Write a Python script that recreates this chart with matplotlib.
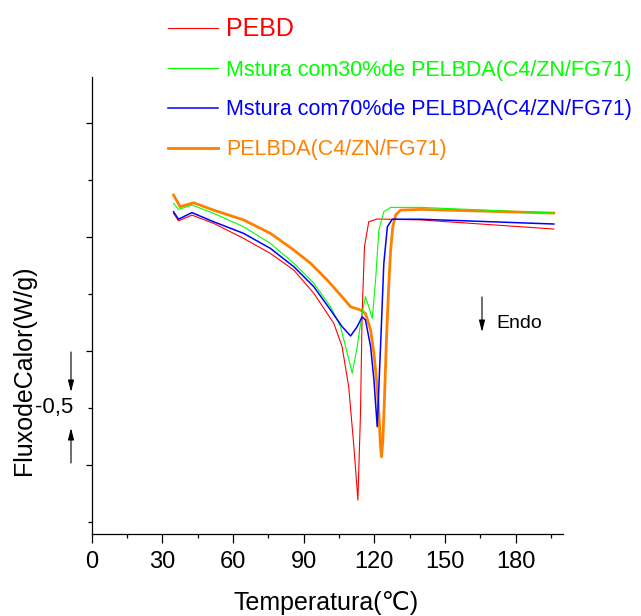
import matplotlib

matplotlib.use("Agg")
import matplotlib.pyplot as plt

# DSC curves (x in degC, y in W/g)
pebd_x = [34.8, 36.9, 42.6, 51.8, 64.5, 75.9, 85.8, 94.3, 102.8, 106.3, 109.1, 111.3, 113.0,
          114.1, 114.8, 115.8, 117.6, 121.2, 139.6, 196.1]
pebd_y = [0.354, 0.321, 0.346, 0.310, 0.244, 0.178, 0.105, 0.003, -0.129, -0.231, -0.407, -0.670,
          -0.904, -0.523, -0.085, 0.208, 0.317, 0.329, 0.325, 0.285]

m30_x = [34.8, 36.9, 42.6, 51.8, 64.5, 75.9, 85.8, 94.3, 101.4, 105.6, 108.5, 110.6, 112.7, 114.8,
         116.2, 117.6, 119.1, 120.5, 121.9, 124.0, 126.9, 139.6, 196.1]
m30_y = [0.398, 0.371, 0.390, 0.354, 0.295, 0.222, 0.135, 0.047, -0.056, -0.143, -0.260, -0.348,
         -0.231, -0.085, -0.012, -0.056, -0.107, 0.061, 0.281, 0.361, 0.380, 0.380, 0.355]

m70_x = [34.8, 36.9, 42.6, 51.8, 64.5, 75.9, 85.8, 94.3, 101.4, 106.3, 109.9, 112.7, 114.8, 116.2,
         118.4, 119.8, 121.2, 122.6, 124.0, 125.5, 127.6, 139.6, 196.1]
m70_y = [0.361, 0.328, 0.357, 0.317, 0.266, 0.200, 0.120, 0.032, -0.070, -0.143, -0.184, -0.143,
         -0.100, -0.114, -0.231, -0.377, -0.582, -0.231, 0.135, 0.295, 0.328, 0.328, 0.307]

pelbda_x = [34.8, 37.6, 43.3, 51.8, 64.5, 75.9, 85.8, 92.9, 100.0, 105.6, 109.9, 114.1, 116.2,
            118.4, 119.8, 120.9, 121.9, 122.6, 123.0, 123.6, 124.3, 125.1, 126.0, 126.9, 127.8,
            129.0, 131.1, 139.6, 196.1]
pelbda_y = [0.434, 0.383, 0.400, 0.368, 0.325, 0.266, 0.193, 0.135, 0.061, -0.004, -0.056, -0.070,
            -0.085, -0.158, -0.260, -0.377, -0.523, -0.670, -0.714, -0.640, -0.450, -0.202, 0.018,
            0.193, 0.295, 0.346, 0.368, 0.371, 0.355]

labels = ["PEBD",
          "Mstura com30%de PELBDA(C4/ZN/FG71)",
          "Mstura com70%de PELBDA(C4/ZN/FG71)",
          "PELBDA(C4/ZN/FG71)"]
colors = ["#ff0000", "#00ff00", "#0000ff", "#ff8000"]

x_ticks = [0, 30, 60, 90, 120, 150, 180]

FONT = ["Liberation Sans", "DejaVu Sans"]
plt.rcParams["font.family"] = FONT


def main():
    fig = plt.figure(figsize=(6.41, 6.16), dpi=100)
    W, H = 641, 616
    ax = fig.add_axes([91.5 / W, 1 - 534 / H, (563 - 91.5) / W, (534 - 77) / H])

    ax.plot(pelbda_x, pelbda_y, color=colors[3], lw=2.0, label=labels[3], zorder=2)
    ax.plot(pebd_x, pebd_y, color=colors[0], lw=0.8, label=labels[0], zorder=3)
    ax.plot(m30_x, m30_y, color=colors[1], lw=0.8, label=labels[1], zorder=3)
    ax.plot(m70_x, m70_y, color=colors[2], lw=1.1, label=labels[2], zorder=3)

    ax.set_xlim(0, 200)
    ax.set_ylim(-1.0526, 0.9518)
    for s in ["top", "right"]:
        ax.spines[s].set_visible(False)
    for s in ["left", "bottom"]:
        ax.spines[s].set_linewidth(0.9)

    ax.set_xticks(x_ticks)
    ax.set_xticklabels([str(t) for t in x_ticks], fontsize=17)
    ax.set_xticks([t + 15 for t in x_ticks], minor=True)
    ax.set_yticks([-0.75, -0.25, 0.25, 0.75])
    ax.set_yticklabels([])
    ax.set_yticks([-1.0, -0.5, 0.0, 0.5], minor=True)
    ax.tick_params(axis="x", which="major", length=6.5, width=0.9, pad=6)
    ax.tick_params(axis="x", which="minor", length=3, width=0.9)
    ax.tick_params(axis="y", which="major", length=4.3, width=0.9)
    ax.tick_params(axis="y", which="minor", length=2.9, width=0.9)

    fig.text(326.5 / W, 1 - 603 / H, "Temperatura(\u2103)", fontsize=18,
             ha="center", va="center")
    fig.text(24 / W, 1 - 370 / H, "FluxodeCalor(W/g)", fontsize=18,
             ha="center", va="center", rotation=90)

    # scale marker on the y axis
    fig.text(73 / W, 1 - 407 / H, "-0,5", fontsize=16, ha="right", va="center")
    arrow = dict(arrowstyle="-|>,head_width=0.18,head_length=0.7", color="k", lw=0.8,
                 shrinkA=0, shrinkB=0)
    ax.annotate("", xy=(71, H - 392), xytext=(71, H - 352), xycoords="figure pixels",
                textcoords="figure pixels", arrowprops=arrow)
    ax.annotate("", xy=(71, H - 428), xytext=(71, H - 463), xycoords="figure pixels",
                textcoords="figure pixels", arrowprops=arrow)

    # endotherm direction
    ax.annotate("", xy=(482, H - 332), xytext=(482, H - 297), xycoords="figure pixels",
                textcoords="figure pixels", arrowprops=arrow)
    fig.text(496 / W, 1 - 323 / H, "Endo", fontsize=14, ha="left", va="center")

    handles, labs = ax.get_legend_handles_labels()
    order = [1, 2, 3, 0]
    leg = ax.legend([handles[i] for i in order], [labs[i] for i in order],
                    loc="upper left", bbox_to_anchor=(168 / W, 1 - 17 / H),
                    bbox_transform=fig.transFigure, frameon=False,
                    prop={"size": 15.5},
                    handlelength=2.3, handletextpad=0.4, labelspacing=0.87,
                    borderpad=0, borderaxespad=0)
    for txt, c in zip(leg.get_texts(), colors):
        txt.set_color(c)
    leg.get_texts()[0].set_fontsize(18)

    fig.savefig("out.png", dpi=100)


if __name__ == "__main__":
    main()
